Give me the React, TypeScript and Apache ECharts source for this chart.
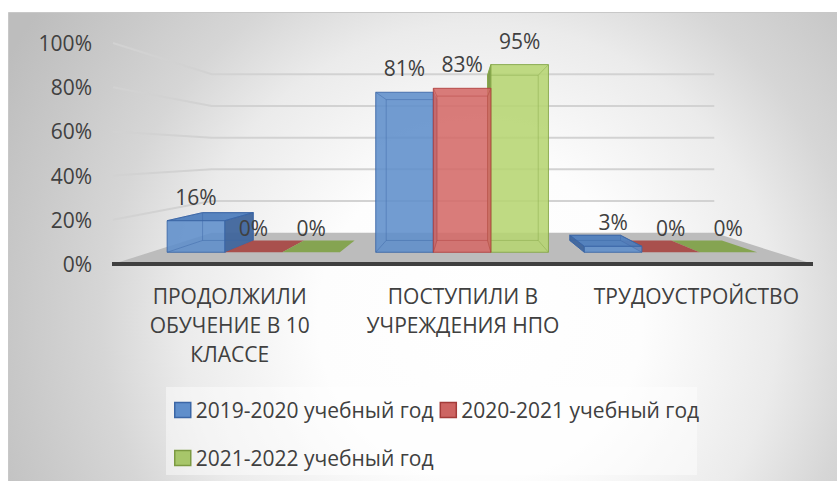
import React, { useEffect, useRef } from 'react';
import * as echarts from 'echarts';

const categories = ['ПРОДОЛЖИЛИ\nОБУЧЕНИЕ В 10\nКЛАССЕ', 'ПОСТУПИЛИ В\nУЧРЕЖДЕНИЯ НПО', 'ТРУДОУСТРОЙСТВО'];
const seriesNames = ['2019-2020 учебный год', '2020-2021 учебный год', '2021-2022 учебный год'];
const values2019 = [16, 81, 3];
const values2020 = [0, 83, 0];
const values2021 = [0, 95, 0];
const yTicks = [0, 20, 40, 60, 80, 100];

const FONT = '"Open Sans", "Noto Sans", sans-serif';
const TEXT = '#404040';
const FLOOR_BACK = 0.718;
const BAR_FRONT = 0.894;
const BAR_BACK = 0.787;
const BAR_FRAC = 0.276;

const palettes = [
  { front: '#5f8ecb', top: '#4f7ebd', side: '#3f659c', edge: '#3b66a6', legend: '#5f8ecb', legendBorder: '#3b66a6' },
  { front: '#d46a68', top: '#a84a47', side: '#9a3d3b', edge: '#b0403d', legend: '#cd6462', legendBorder: '#a33b39' },
  { front: '#b6d572', top: '#82a24b', side: '#7a9844', edge: '#84a648', legend: '#a7c66a', legendBorder: '#7c9a42' },
];

function projector(cs: any) {
  const vpx = cs.x + cs.width / 2;
  const vpy = cs.y + cs.height / 2;
  const P = (X: number, Y: number, s: number) => [vpx + s * (X - vpx), vpy + s * (Y - vpy)];
  return { vpx, vpy, P };
}

function barRenderer(si: number) {
  const pal = palettes[si];
  return (params: any, api: any) => {
    const cs = params.coordSys;
    const { vpx, vpy, P } = projector(cs);
    const j = api.value(0);
    const v = api.value(1);
    const base = api.coord([j, 0]);
    const topC = api.coord([j, v]);
    const cx = base[0];
    const yB = base[1];
    const yT = topC[1];
    const bw = api.size([1, 0])[0] * BAR_FRAC;
    const x0 = cx - 1.5 * bw + si * bw - 1;
    const x1 = x0 + bw;
    const F = BAR_FRONT;
    const B = BAR_BACK;
    const dist = Math.abs((x0 + x1) / 2 - vpx);
    const z = (1000 - Math.round(dist)) * 10;
    const children: any[] = [];
    const poly = (pts: number[][], fill: string, opacity: number, stroke: string | null, k: number) => ({
      type: 'polygon',
      z2: z + k,
      silent: true,
      shape: { points: pts },
      style: { fill, opacity, stroke: stroke || 'none', lineWidth: stroke ? 1 : 0 },
    });
    if (v > 0) {
      if (x0 > vpx) children.push(poly([P(x0, yB, F), P(x0, yB, B), P(x0, yT, B), P(x0, yT, F)], pal.side, 0.95, pal.edge, 0));
      if (x1 < vpx) children.push(poly([P(x1, yB, F), P(x1, yB, B), P(x1, yT, B), P(x1, yT, F)], pal.side, 0.95, pal.edge, 0));
    }
    if (yT > vpy) {
      children.push(poly([P(x0, yT, F), P(x1, yT, F), P(x1, yT, B), P(x0, yT, B)], pal.top, 0.95, v > 0 ? pal.edge : null, 1));
    }
    if (v > 0) {
      const fp = [P(x0, yB, F), P(x1, yB, F), P(x1, yT, F), P(x0, yT, F)];
      const bp = [P(x0, yB, B), P(x1, yB, B), P(x1, yT, B), P(x0, yT, B)];
      children.push(poly(fp, pal.front, 0.88, pal.edge, 2));
      children.push({
        type: 'polygon', z2: z + 3, silent: true,
        shape: { points: bp },
        style: { fill: 'none', stroke: pal.edge, lineWidth: 1, opacity: 0.45 },
      });
      for (let k = 0; k < 4; k++) {
        children.push({
          type: 'line', z2: z + 3, silent: true,
          shape: { x1: fp[k][0], y1: fp[k][1], x2: bp[k][0], y2: bp[k][1] },
          style: { stroke: pal.edge, lineWidth: 1, opacity: 0.45 },
        });
      }
    }
    const ft = P((x0 + x1) / 2, yT, F);
    children.push({
      type: 'text', z2: 100000, silent: true,
      style: {
        text: v + '%', x: ft[0], y: ft[1] - 24, align: 'center', verticalAlign: 'middle',
        fill: TEXT, fontSize: 21, fontFamily: FONT,
      },
    });
    return { type: 'group', children };
  };
}

const gridRenderer = (params: any, api: any) => {
  const cs = params.coordSys;
  const { P } = projector(cs);
  const v = api.value(1);
  const y = api.coord([0, v])[1];
  const L = cs.x;
  const R = cs.x + cs.width;
  if (v === 0) {
    return {
      type: 'group',
      children: [
        {
          type: 'polygon', silent: true,
          shape: { points: [P(L, y, 1), P(R, y, 1), P(R, y, FLOOR_BACK), P(L, y, FLOOR_BACK)] },
          style: { fill: '#bcbcbc' },
        },
        {
          type: 'line', silent: true,
          shape: { x1: L - 1, y1: y, x2: R, y2: y },
          style: { stroke: '#3f3f3f', lineWidth: 4 },
        },
      ],
    };
  }
  return {
    type: 'polyline', silent: true,
    shape: { points: [P(L, y, 1), P(L, y, FLOOR_BACK), P(R, y, FLOOR_BACK)] },
    style: { stroke: '#d2d2d2', lineWidth: 2, fill: 'none' },
  };
};

export default function App() {
  const ref = useRef<HTMLDivElement>(null);
  useEffect(() => {
    document.body.style.margin = '0';
    const chart = echarts.init(ref.current!, null, { renderer: 'svg' });
    const allValues = [values2019, values2020, values2021];
    const option: any = {
      animation: false,
      graphic: [
        {
          type: 'rect', z: -10, silent: true,
          shape: { x: 8.5, y: 12.5, width: 840, height: 500 },
          style: {
            fill: new echarts.graphic.RadialGradient(480, 320, 540, [
              { offset: 0, color: '#ffffff' },
              { offset: 0.3, color: '#fdfdfd' },
              { offset: 0.55, color: '#ebebeb' },
              { offset: 0.7, color: '#d6d6d6' },
              { offset: 0.85, color: '#c9c9c9' },
              { offset: 1, color: '#bdbdbd' },
            ], true),
            stroke: '#c8c8c8',
            lineWidth: 1,
          },
        },
        {
          type: 'rect', z: -5, silent: true,
          shape: { x: 166, y: 387, width: 531, height: 88 },
          style: { fill: 'rgba(255,255,255,0.45)' },
        },
      ],
      grid: { left: 113, right: 24, top: 43, bottom: 217, containLabel: false },
      xAxis: {
        type: 'category',
        data: categories,
        axisLine: { show: false },
        axisTick: { show: false },
        splitLine: { show: false },
        axisLabel: { interval: 0, fontSize: 21, lineHeight: 29, margin: 17, color: TEXT, fontFamily: FONT },
      },
      yAxis: {
        type: 'value',
        min: 0,
        max: 100,
        interval: 20,
        axisLine: { show: false },
        axisTick: { show: false },
        splitLine: { show: false },
        axisLabel: { formatter: '{value}%', fontSize: 21, color: TEXT, fontFamily: FONT, margin: 21, padding: [7, 0, 0, 0] },
      },
      legend: {
        left: 166,
        top: 389,
        width: 540,
        orient: 'horizontal',
        padding: [0, 8, 0, 8],
        itemWidth: 16,
        itemHeight: 15,
        itemGap: 6,
        icon: 'rect',
        selectedMode: false,
        textStyle: { fontSize: 21, fontFamily: FONT, color: TEXT, lineHeight: 42 },
        data: seriesNames.map((n, i) => ({
          name: n,
          itemStyle: { color: palettes[i].legend, borderColor: palettes[i].legendBorder, borderWidth: 1.5 },
        })),
      },
      series: [
        {
          type: 'custom',
          name: 'grid',
          z: 1,
          silent: true,
          clip: false,
          renderItem: gridRenderer,
          encode: { x: 0, y: 1 },
          data: yTicks.map((t) => [0, t]),
        },
        ...allValues.map((vals, si) => ({
          type: 'custom',
          name: seriesNames[si],
          z: 2,
          silent: true,
          clip: false,
          itemStyle: { color: palettes[si].legend },
          renderItem: barRenderer(si),
          encode: { x: 0, y: 1 },
          data: vals.map((v, i) => [i, v]),
        })),
      ],
    };
    chart.setOption(option);
    return () => chart.dispose();
  }, []);
  return <div ref={ref} style={{ width: 837, height: 481, overflow: 'hidden' }} />;
}
